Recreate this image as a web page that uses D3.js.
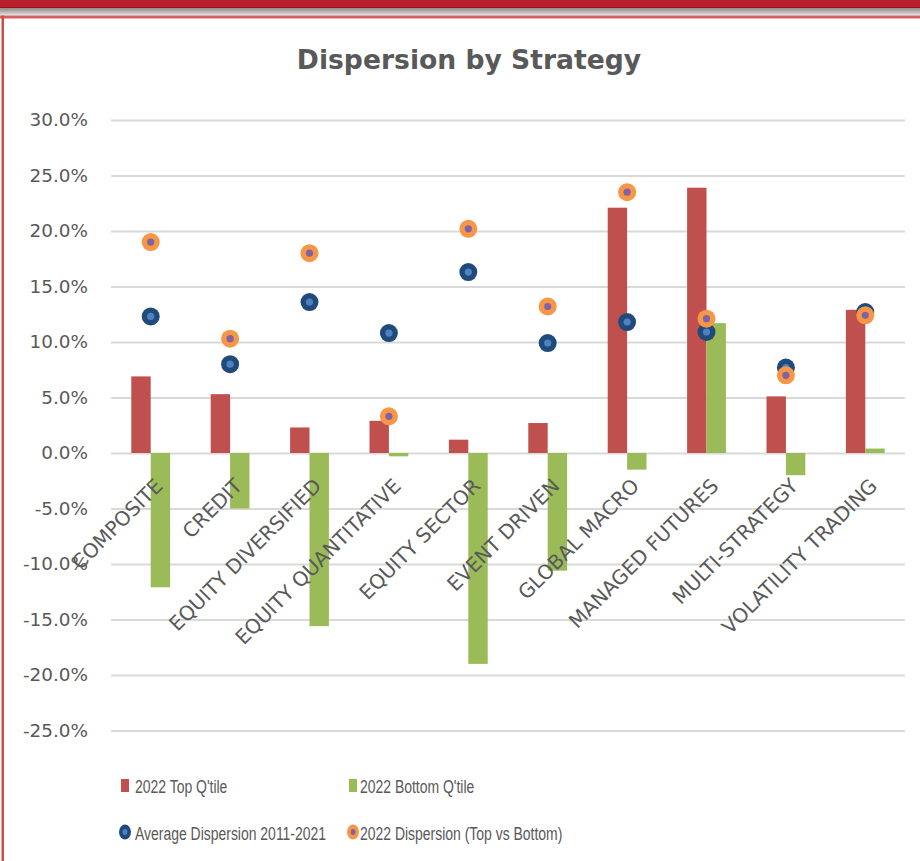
<!DOCTYPE html>
<html>
<head>
<meta charset="utf-8">
<script src="https://cdn.jsdelivr.net/npm/d3@7"></script>
<style>
  body { margin: 0; background: #fff; }
  svg { display: block; }
  .tick text { fill: #595959; font-family: "DejaVu Sans", sans-serif; font-size: 18.4px; }
  .cat { fill: #595959; font-family: "DejaVu Sans", sans-serif; font-size: 20px; }
  .legend text { fill: #595959; font-family: "Liberation Sans", sans-serif; font-size: 19px; }
</style>
</head>
<body>
<script>
const w = 920
const h = 861

const categories = ['COMPOSITE', 'CREDIT', 'EQUITY DIVERSIFIED', 'EQUITY QUANTITATIVE', 'EQUITY SECTOR',
    'EVENT DRIVEN', 'GLOBAL MACRO', 'MANAGED FUTURES', 'MULTI-STRATEGY', 'VOLATILITY TRADING']
const topQtile = [6.9, 5.3, 2.3, 2.9, 1.2, 2.7, 22.1, 23.9, 5.1, 12.9]
const bottomQtile = [-12.1, -5.0, -15.6, -0.3, -19.0, -10.6, -1.5, 11.7, -2.0, 0.4]
const avgDispersion = [12.3, 8.0, 13.6, 10.8, 16.3, 9.9, 11.8, 10.9, 7.7, 12.7]
const dispersion2022 = [19.0, 10.3, 18.0, 3.3, 20.2, 13.2, 23.5, 12.1, 7.0, 12.4]
const yTicks = [-25, -20, -15, -10, -5, 0, 5, 10, 15, 20, 25, 30]
const seriesNames = ["2022 Top Q'tile", "2022 Bottom Q'tile", 'Average Dispersion 2011-2021', '2022 Dispersion (Top vs Bottom)']

const left = 111
const right = 905
const barW = 19.4

const svg = d3.select('body').append('svg')
    .attr('width', w)
    .attr('height', h)

// frame (red band at top, thin red border)
svg.append('rect').attr('x', 0).attr('y', 0).attr('width', w).attr('height', 7).attr('fill', '#b9202e')
svg.append('rect').attr('x', 0).attr('y', 7).attr('width', w).attr('height', 1.5).attr('fill', '#9a0f1a')
const grad = svg.append('defs').append('linearGradient')
    .attr('id', 'topfade').attr('x1', 0).attr('x2', 0).attr('y1', 0).attr('y2', 1)
grad.append('stop').attr('offset', 0).attr('stop-color', '#8c8c8c')
grad.append('stop').attr('offset', 1).attr('stop-color', '#e6e6e6')
svg.append('rect').attr('x', 0).attr('y', 8.5).attr('width', w).attr('height', 7).attr('fill', 'url(#topfade)')
svg.append('rect').attr('x', 0).attr('y', 15.5).attr('width', w).attr('height', 3).attr('fill', '#d4605f')
svg.append('rect').attr('x', 1.5).attr('y', 15.5).attr('width', 2.5).attr('height', h).attr('fill', '#cc4b4b')

svg.append('text')
    .attr('x', 469).attr('y', 69)
    .attr('text-anchor', 'middle')
    .attr('font-family', '"DejaVu Sans", sans-serif')
    .attr('font-weight', 'bold')
    .attr('font-size', 26.6)
    .attr('fill', '#595959')
    .text('Dispersion by Strategy')

const xScale = d3.scaleBand()
    .domain(categories)
    .range([left, right])

const yScale = d3.scaleLinear()
    .domain([-25, 30])
    .range([730.5, 120])

const fmt = d => d3.format('.1f')(d).replace('\u2212', '-') + '%'

const yAxis = svg.append('g')
    .attr('transform', `translate(${left},0)`)
    .call(d3.axisLeft(yScale).tickValues(yTicks).tickFormat(fmt)
        .tickSizeInner(-(right - left)).tickSizeOuter(0).tickPadding(23))
yAxis.select('.domain').remove()
yAxis.selectAll('.tick line').attr('stroke', '#d9d9d9').attr('stroke-width', 1.8)

const cx = d => xScale(d) + xScale.bandwidth() / 2

svg.append('g').selectAll('rect')
    .data(categories)
    .join('rect')
    .attr('x', d => cx(d) - barW)
    .attr('width', barW)
    .attr('y', (d, i) => yScale(Math.max(0, topQtile[i])))
    .attr('height', (d, i) => Math.abs(yScale(topQtile[i]) - yScale(0)))
    .attr('fill', '#c0504d')

svg.append('g').selectAll('rect')
    .data(categories)
    .join('rect')
    .attr('x', d => cx(d))
    .attr('width', barW)
    .attr('y', (d, i) => yScale(Math.max(0, bottomQtile[i])))
    .attr('height', (d, i) => Math.abs(yScale(bottomQtile[i]) - yScale(0)))
    .attr('fill', '#9bbb59')

// category labels
svg.append('g').selectAll('text')
    .data(categories)
    .join('text')
    .attr('class', 'cat')
    .attr('text-anchor', 'end')
    .attr('transform', d => `translate(${cx(d) + 3},477) rotate(-45)`)
    .attr('dy', '0.72em')
    .text(d => d)

function markers (values, outer, inner) {
    const g = svg.append('g')
    g.selectAll('circle.o')
        .data(categories)
        .join('circle')
        .attr('class', 'o')
        .attr('cx', d => cx(d))
        .attr('cy', (d, i) => yScale(values[i]))
        .attr('r', 9)
        .attr('fill', outer)
    g.selectAll('circle.i')
        .data(categories)
        .join('circle')
        .attr('class', 'i')
        .attr('cx', d => cx(d))
        .attr('cy', (d, i) => yScale(values[i]))
        .attr('r', 3.6)
        .attr('fill', inner)
}
markers(avgDispersion, '#1f4a7c', '#4f81bd')
markers(dispersion2022, '#f79646', '#8064a2')

// legend
const legend = svg.append('g').attr('class', 'legend')
const legText = (x, y, t) => legend.append('text')
    .attr('transform', `translate(${x},${y}) scale(0.735,1)`)
    .text(t)

legend.append('rect').attr('x', 121).attr('y', 779).attr('width', 8).attr('height', 13).attr('fill', '#c0504d')
legText(135, 792.5, seriesNames[0])
legend.append('rect').attr('x', 349).attr('y', 779).attr('width', 8).attr('height', 13).attr('fill', '#9bbb59')
legText(360, 792.5, seriesNames[1])

legend.append('ellipse').attr('cx', 125).attr('cy', 832).attr('rx', 6).attr('ry', 7.5).attr('fill', '#1f4a7c')
legend.append('ellipse').attr('cx', 125).attr('cy', 832).attr('rx', 2.4).attr('ry', 3).attr('fill', '#4f81bd')
legText(135, 839.5, seriesNames[2])
legend.append('ellipse').attr('cx', 353).attr('cy', 832).attr('rx', 6).attr('ry', 7.5).attr('fill', '#f79646')
legend.append('ellipse').attr('cx', 353).attr('cy', 832).attr('rx', 2.4).attr('ry', 3).attr('fill', '#8064a2')
legText(360, 839.5, seriesNames[3])
</script>
</body>
</html>
